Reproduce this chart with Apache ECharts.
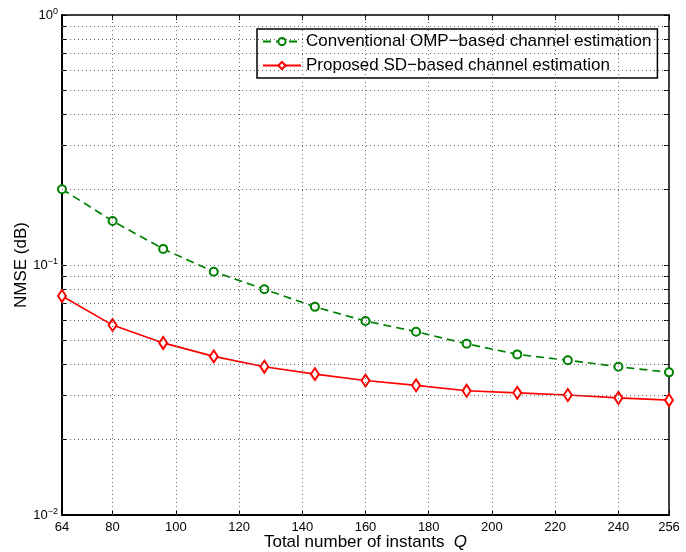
<!DOCTYPE html>
<html>
<head>
<meta charset="utf-8">
<script src="https://cdn.jsdelivr.net/npm/echarts@6/dist/echarts.min.js"></script>
<style>
  html, body { margin: 0; padding: 0; background: #fff; }
  #chart { width: 686px; height: 552px; }
</style>
</head>
<body>
<div id="chart"></div>
<script>
const instants = [64, 80, 96, 112, 128, 144, 160, 176, 192, 208, 224, 240, 256]
const ompNmse = [0.201, 0.150, 0.116, 0.094, 0.080, 0.068, 0.0597, 0.0541, 0.0484, 0.0439, 0.0416, 0.0392, 0.0372]
const sdNmse = [0.0752, 0.0575, 0.0488, 0.0431, 0.0392, 0.0366, 0.0345, 0.0330, 0.0314, 0.0308, 0.0302, 0.0294, 0.0288]
const xTicks = [64, 80, 100, 120, 140, 160, 180, 200, 220, 240, 256]
const yMajor = [0.01, 0.1, 1]
const yMinor = [0.01, 0.02, 0.03, 0.04, 0.05, 0.06, 0.07, 0.08, 0.09,
  0.1, 0.2, 0.3, 0.4, 0.5, 0.6, 0.7, 0.8, 0.9, 1]

const font = 'Liberation Sans, Arial, Helvetica, sans-serif'
const gridDots = { color: '#666', width: 1, type: [1, 3] }

const chart = echarts.init(document.getElementById('chart'))

function expLabel(v) {
  const e = Math.round(Math.log10(v))
  return '{b|10}{e|' + (e < 0 ? '\u2212' + (-e) : e) + '}'
}

function xAxisOf(pos, width) {
  return {
    type: 'value',
    position: pos,
    min: 64,
    max: 256,
    axisLine: { show: true, onZero: false, lineStyle: { color: '#000', width } },
    axisTick: { inside: true, length: 5, customValues: xTicks, lineStyle: { color: '#000' } },
    axisLabel: { show: false },
    splitLine: { show: false },
  }
}
function yAxisOf(pos, width) {
  return {
    type: 'log',
    logBase: 10,
    position: pos,
    min: 0.01,
    max: 1,
    axisLine: { show: true, lineStyle: { color: '#000', width } },
    axisTick: { inside: true, length: 5, customValues: yMinor, lineStyle: { color: '#000' } },
    axisLabel: { show: false },
    splitLine: { show: false },
  }
}

chart.setOption({
  animation: false,
  textStyle: { fontFamily: font },
  grid: { left: 62, right: 17, top: 15, bottom: 37, outerBoundsMode: 'none', containLabel: false },
  legend: {
    left: 257,
    top: 29,
    orient: 'vertical',
    backgroundColor: '#fff',
    borderColor: '#000',
    borderWidth: 1.5,
    borderRadius: 0,
    padding: [4, 6, 4, 5],
    itemGap: 7,
    itemWidth: 38,
    itemHeight: 9,
    textStyle: { fontSize: 17, lineHeight: 17, color: '#000', fontFamily: font },
  },
  xAxis: [
    {
      ...xAxisOf('bottom', 2),
      name: '{n|Total number of instants  }{q|Q}',
      nameLocation: 'middle',
      nameGap: 19,
      nameMoveOverlap: false,
      nameTextStyle: {
        rich: {
          n: { fontSize: 17, color: '#000', fontFamily: font },
          q: { fontSize: 17, color: '#000', fontFamily: font, fontStyle: 'italic' },
        },
      },
      axisLabel: { show: true, customValues: xTicks, color: '#000', fontSize: 13, margin: 6 },
    },
    xAxisOf('top', 1.5),
  ],
  yAxis: [
    {
      ...yAxisOf('left', 2),
      name: 'NMSE (dB)',
      nameLocation: 'middle',
      nameGap: 32,
      nameMoveOverlap: false,
      nameTextStyle: { fontSize: 17, color: '#000' },
      axisLabel: {
        show: true,
        customValues: yMajor,
        formatter: expLabel,
        margin: 4,
        rich: {
          b: { fontSize: 13, color: '#000', fontFamily: font, lineHeight: 15 },
          e: { fontSize: 9, color: '#000', fontFamily: font, verticalAlign: 'top', lineHeight: 15, padding: [0, 0, 8, 0] },
        },
      },
    },
    yAxisOf('right', 1.5),
  ],
  series: [
    {
      name: 'Conventional OMP\u2212based channel estimation',
      type: 'line',
      data: instants.map((q, i) => [q, ompNmse[i]]),
      symbol: 'emptyCircle',
      symbolSize: 8,
      lineStyle: { color: '#008000', width: 1.7, type: [8, 5] },
      itemStyle: { color: '#008000', borderWidth: 1.6 },
      z: 3,
      markLine: {
        silent: true,
        symbol: 'none',
        label: { show: false },
        lineStyle: gridDots,
        data: [
          ...xTicks.slice(1, -1).map(v => ({ xAxis: v })),
          ...yMinor.slice(1, -1).map(v => ({ yAxis: v })),
        ],
      },
    },
    {
      name: 'Proposed SD\u2212based channel estimation',
      type: 'line',
      data: instants.map((q, i) => [q, sdNmse[i]]),
      symbol: 'emptyDiamond',
      symbolSize: [8, 12],
      lineStyle: { color: '#ff0000', width: 1.6 },
      itemStyle: { color: '#ff0000', borderWidth: 1.6 },
      z: 3,
    },
  ],
})

window.addEventListener('resize', () => chart.resize())
</script>
</body>
</html>
